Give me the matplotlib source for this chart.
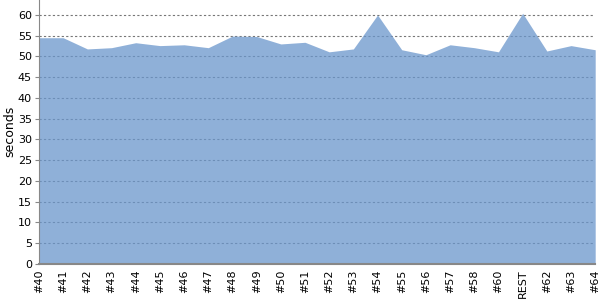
import matplotlib
matplotlib.use("Agg")
import matplotlib.pyplot as plt
import numpy as np

labels = ["#40", "#41", "#42", "#43", "#44", "#45", "#46", "#47", "#48", "#49",
          "#50", "#51", "#52", "#53", "#54", "#55", "#56", "#57", "#58", "#60",
          "REST", "#62", "#63", "#64"]
values = [54.5, 54.5, 51.8, 52.1, 53.3, 52.6, 52.8, 52.1, 54.9, 54.8,
          53.0, 53.4, 51.1, 51.8, 60.0, 51.6, 50.4, 52.8, 52.1, 51.1,
          60.4, 51.3, 52.6, 51.6]
yticks = list(range(0, 61, 5))

fig = plt.figure(figsize=(6, 3), dpi=100)
ax = fig.add_axes([0.065, 0.121, 0.927, 0.879])
x = np.arange(len(labels))
ax.fill_between(x, 0, values, color="#6a96cc", alpha=0.75, linewidth=0, zorder=2)
ax.set_xlim(0, len(labels) - 1)
ax.set_ylim(0, 63.6)
ax.set_yticks(yticks)
ax.set_xticks(x)
ax.set_xticklabels(labels, rotation=90, fontsize=8)
ax.tick_params(axis="y", labelsize=8, length=3, color="#888888", pad=2)
ax.tick_params(axis="x", length=0, pad=4)
ax.yaxis.grid(True, linestyle=(0, (2, 2)), color="#777777", linewidth=0.8, zorder=1)
ax.set_axisbelow(True)
for s in ["top", "right"]:
    ax.spines[s].set_visible(False)
ax.spines["left"].set_color("#888888")
ax.spines["bottom"].set_color("#888888")
ax.spines["bottom"].set_linewidth(1.5)
ax.set_ylabel("seconds", fontsize=9, va="center")
ax.yaxis.set_label_coords(-0.052, 0.5)
fig.savefig("out.png", dpi=100)
